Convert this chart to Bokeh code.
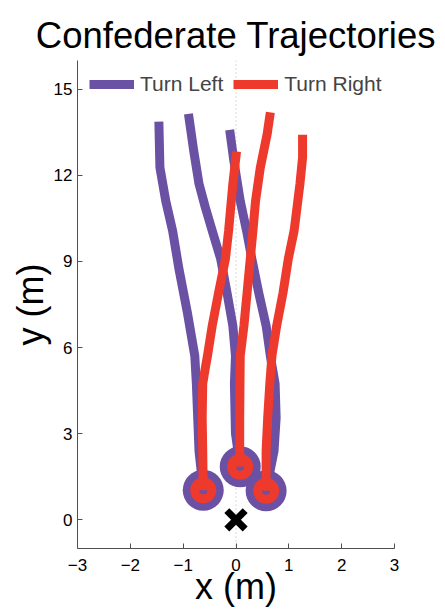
from bokeh.plotting import figure
from bokeh.models import FixedTicker, Span, Legend, LegendItem
from bokeh.embed import file_html
from bokeh.resources import INLINE

# Trajectories of the confederate, listed from the start position upward (metres)
left_xs = [
    [-0.62, -0.70, -0.75, -0.78, -0.92, -1.08, -1.20, -1.33, -1.44, -1.46],
    [0.08, -0.01, -0.03, -0.01, -0.06, -0.17, -0.29, -0.45, -0.58, -0.70, -0.80, -0.90],
    [0.57, 0.72, 0.76, 0.74, 0.65, 0.57, 0.43, 0.30, 0.20, 0.08, -0.04, -0.12],
]
left_ys = [
    [1.03, 2.40, 4.74, 5.71, 7.21, 8.74, 10.07, 11.11, 12.27, 13.87],
    [1.85, 3.00, 4.74, 5.71, 6.76, 7.91, 9.09, 10.07, 10.88, 11.70, 12.85, 14.14],
    [1.01, 2.40, 3.56, 4.74, 5.71, 6.76, 7.91, 9.09, 10.07, 11.11, 12.50, 13.58],
]
right_xs = [
    [-0.62, -0.63, -0.64, -0.63, -0.58, -0.54, -0.45, -0.33, -0.20, -0.14, -0.06, 0.01],
    [0.08, 0.07, 0.07, 0.08, 0.15, 0.21, 0.27, 0.32, 0.37, 0.46, 0.59, 0.65],
    [0.57, 0.57, 0.60, 0.64, 0.68, 0.77, 0.89, 0.99, 1.10, 1.21, 1.26, 1.26],
]
right_ys = [
    [1.03, 2.40, 3.56, 4.74, 5.30, 5.71, 6.76, 7.91, 9.09, 10.07, 11.70, 12.83],
    [1.85, 2.40, 3.56, 5.71, 6.76, 7.91, 9.09, 10.07, 11.11, 12.27, 13.44, 14.19],
    [1.01, 2.40, 3.56, 4.74, 5.71, 6.76, 7.91, 9.09, 10.07, 11.70, 12.62, 13.41],
]

# Participant position
participant_x = [0.0]
participant_y = [0.0]

x_ticks = [-3, -2, -1, 0, 1, 2, 3]
y_ticks = [0, 3, 6, 9, 12, 15]

PURPLE = "#6A51A3"
RED = "#EE3A2C"
FONT = "Liberation Sans"

p = figure(
    width=445, height=609,
    x_range=(-3, 3), y_range=(-1, 16),
    output_backend="svg", toolbar_location=None,
    min_border_left=77, min_border_right=51,
    min_border_top=60, min_border_bottom=61,
    title="Confederate Trajectories",
)
p.outline_line_color = None
p.grid.visible = False
p.background_fill_color = "white"
p.border_fill_color = "white"

p.title.text_font = FONT
p.title.text_font_size = "36.5px"
p.title.text_font_style = "normal"
p.title.align = "center"
p.title.text_color = "black"

for ax in (p.xaxis[0], p.yaxis[0]):
    ax.axis_line_color = "#505050"
    ax.major_tick_line_color = "#505050"
    ax.major_tick_in = 5
    ax.major_tick_out = 0
    ax.minor_tick_line_color = None
    ax.major_label_text_font = FONT
    ax.major_label_text_font_size = "17px"
    ax.major_label_text_color = "black"
    ax.axis_label_text_font = FONT
    ax.axis_label_text_font_size = "36px"
    ax.axis_label_text_font_style = "normal"
    ax.axis_label_text_color = "black"

p.xaxis.ticker = FixedTicker(ticks=x_ticks)
p.yaxis.ticker = FixedTicker(ticks=y_ticks)
p.xaxis.major_label_overrides = {t: str(t).replace("-", "\u2212") for t in x_ticks}
p.yaxis.major_label_overrides = {t: str(t) for t in y_ticks}
p.xaxis.major_label_standoff = 10
p.yaxis.major_label_standoff = 5
p.xaxis.axis_label = "x (m)"
p.yaxis.axis_label = "y (m)"
p.xaxis.axis_label_standoff = -8
p.yaxis.axis_label_standoff = 0

# Dotted centre line
p.add_layout(Span(location=0, dimension="height", line_color="#b5b5b5",
                  line_dash="1 3", line_width=1, level="underlay"))

r_left = p.multi_line(left_xs, left_ys, line_color=PURPLE, line_width=9,
                      line_cap="butt", line_join="round")
p.scatter([xs[0] for xs in left_xs], [ys[0] for ys in left_ys],
          marker="circle", size=41, fill_color=PURPLE, line_color=None)
r_right = p.multi_line(right_xs, right_ys, line_color=RED, line_width=9,
                       line_cap="butt", line_join="round")
p.scatter([xs[0] for xs in right_xs], [ys[0] for ys in right_ys],
          marker="circle", size=17, fill_color=None, line_color=RED, line_width=9)

p.scatter(participant_x, participant_y, marker="x", size=26,
          line_color="black", line_width=7)

legend = Legend(
    items=[LegendItem(label="Turn Left", renderers=[r_left]),
           LegendItem(label="Turn Right", renderers=[r_right])],
    orientation="horizontal", location="top_left",
    border_line_color=None, background_fill_alpha=0,
    label_text_font=FONT, label_text_font_size="21px",
    glyph_width=45, glyph_height=20, label_standoff=6, spacing=10,
    padding=0, margin=12,
)
p.add_layout(legend)

open("out.html", "w").write(file_html(p, INLINE))
